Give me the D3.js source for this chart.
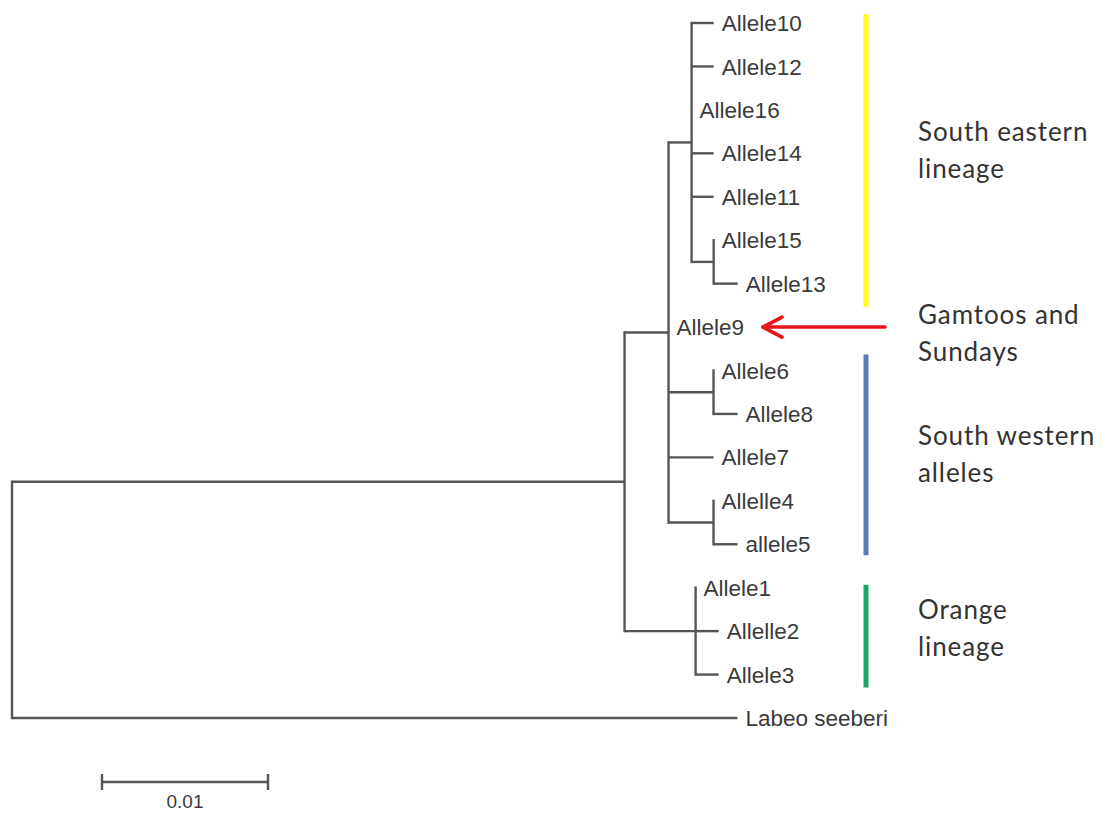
<!DOCTYPE html>
<html>
<head>
<meta charset="utf-8">
<script src="https://cdn.jsdelivr.net/npm/d3@7/dist/d3.min.js"></script>
<style>
  html, body { margin: 0; padding: 0; background: #fff; }
  svg { display: block; }
</style>
</head>
<body>
<svg id="chart" width="1107" height="816"></svg>
<script>
// ---- Tree: each node with its parent and branch length (substitutions/site) ----
const nodeIds = [
  "root", "ingroup", "cladeA", "southEast",
  "Allele10", "Allele12", "Allele16", "Allele14", "Allele11", "n15_13", "Allele15", "Allele13",
  "Allele9", "n6_8", "Allele6", "Allele8", "Allele7", "n4_5", "Allelle4", "allele5",
  "orange", "Allele1", "Allelle2", "Allele3",
  "Labeo seeberi"
];
const parentIds = [
  null, "root", "ingroup", "cladeA",
  "southEast", "southEast", "southEast", "southEast", "southEast", "southEast", "n15_13", "n15_13",
  "cladeA", "cladeA", "n6_8", "n6_8", "cladeA", "cladeA", "n4_5", "n4_5",
  "ingroup", "orange", "orange", "orange",
  "root"
];
const branchLengths = [
  0, 0.0369, 0.00265, 0.00139,
  0.00133, 0.00133, 0, 0.00133, 0.00133, 0.00133, 0, 0.00145,
  0, 0.00271, 0, 0.00145, 0.00271, 0.00271, 0, 0.00145,
  0.00428, 0, 0.00139, 0.00139,
  0.0437
];

// ---- Scale bar ----
const scaleBarValue = 0.01;
const scaleBarLabel = "0.01";

// ---- Lineage brackets (first leaf, last leaf) ----
const groupNames  = ["South eastern lineage", "South western alleles", "Orange lineage"];
const groupLines  = [["South eastern", "lineage"], ["South western", "alleles"], ["Orange", "lineage"]];
const groupFirst  = ["Allele10", "Allele6", "Allele1"];
const groupLast   = ["Allele13", "allele5", "Allele3"];
const groupAnchor = ["Allele14", "Allele7", "Allelle2"];
const groupColors = ["#ffff1a", "#5b7db3", "#1fa46c"];

// ---- Highlighted allele ----
const arrowTarget = "Allele9";
const arrowLines  = ["Gamtoos and", "Sundays"];

// ---------------------------------------------------------------
const svg = d3.select("#chart");

const table = nodeIds.map((id, i) => ({ id, parent: parentIds[i], len: branchLengths[i] }));
const root = d3.stratify().id(d => d.id).parentId(d => d.parent)(table);

// cumulative distance from the root
root.each(n => { n.dist = n.parent ? n.parent.dist + n.data.len : 0; });

const leaves = root.leaves();
leaves.forEach((l, i) => { l.row = i; });
// internal node row = midpoint of first and last child
root.eachAfter(n => {
  if (n.children) n.row = (n.children[0].row + n.children[n.children.length - 1].row) / 2;
});

const x = d3.scaleLinear().domain([0, 0.01]).range([12, 178]);
const y = d3.scaleLinear().domain([0, leaves.length - 1]).range([23, 718]);

const treeColor = "#555";
const g = svg.append("g");

// horizontal branches
g.selectAll("line.h")
  .data(root.descendants().filter(n => n.parent && n.data.len > 0))
  .join("line")
  .attr("x1", n => x(n.parent.dist)).attr("x2", n => x(n.dist))
  .attr("y1", n => y(n.row)).attr("y2", n => y(n.row))
  .attr("stroke", treeColor).attr("stroke-width", 2.4);

// vertical connectors
g.selectAll("line.v")
  .data(root.descendants().filter(n => n.children))
  .join("line")
  .attr("x1", n => x(n.dist)).attr("x2", n => x(n.dist))
  .attr("y1", n => y(n.children[0].row) - 1.2)
  .attr("y2", n => y(n.children[n.children.length - 1].row) + 1.2)
  .attr("stroke", treeColor).attr("stroke-width", 2.4);

// leaf labels
g.selectAll("text.leaf")
  .data(leaves)
  .join("text")
  .attr("x", l => x(l.dist) + 8)
  .attr("y", l => y(l.row))
  .attr("dy", "0.36em")
  .attr("font-family", "'Liberation Sans', Arial, sans-serif")
  .attr("font-size", 22.5)
  .attr("fill", "#3a3a3a")
  .text(l => l.id);

// scale bar
const sbX0 = 102, sbY = 782;
const sbW = x(scaleBarValue) - x(0);
const sb = svg.append("g").attr("stroke", treeColor).attr("stroke-width", 2.4);
sb.append("line").attr("x1", sbX0).attr("x2", sbX0 + sbW).attr("y1", sbY).attr("y2", sbY);
sb.append("line").attr("x1", sbX0).attr("x2", sbX0).attr("y1", sbY - 8).attr("y2", sbY + 8);
sb.append("line").attr("x1", sbX0 + sbW).attr("x2", sbX0 + sbW).attr("y1", sbY - 8).attr("y2", sbY + 8);
svg.append("text")
  .attr("x", sbX0 + sbW / 2).attr("y", sbY + 26)
  .attr("text-anchor", "middle")
  .attr("font-family", "'Liberation Sans', Arial, sans-serif")
  .attr("font-size", 19).attr("fill", "#3a3a3a")
  .text(scaleBarLabel);

// lineage brackets and their labels
const leafRow = Object.fromEntries(leaves.map(l => [l.id, l.row]));
const barX = 866, labelX = 918;
const barPadTop = [9, 16, 3], barPadBottom = [23, 11, 13];
const labelFont = "Lato, 'Open Sans', sans-serif";

groupNames.forEach((name, i) => {
  svg.append("line")
    .attr("x1", barX).attr("x2", barX)
    .attr("y1", y(leafRow[groupFirst[i]]) - barPadTop[i])
    .attr("y2", y(leafRow[groupLast[i]]) + barPadBottom[i])
    .attr("stroke", groupColors[i]).attr("stroke-width", 5);
  const t = svg.append("text")
    .attr("font-family", labelFont).attr("font-size", 26)
    .attr("letter-spacing", 0.9)
    .attr("fill", "#333");
  groupLines[i].forEach((line, k) => {
    t.append("tspan").attr("x", labelX)
      .attr("y", y(leafRow[groupAnchor[i]]) - 12 + k * 36.5)
      .text(line);
  });
});

// arrow pointing at the highlighted allele
const ay = y(leafRow[arrowTarget]);
const ax0 = 885, ax1 = 763;
const arrow = svg.append("g").attr("stroke", "#e8141c").attr("stroke-width", 3.6)
  .attr("fill", "none").attr("stroke-linecap", "round").attr("stroke-linejoin", "round");
arrow.append("line").attr("x1", ax0).attr("x2", ax1).attr("y1", ay).attr("y2", ay);
arrow.append("polyline").attr("points", [[ax1 + 19, ay - 10], [ax1, ay], [ax1 + 19, ay + 10]].join(" "));

const at = svg.append("text")
  .attr("font-family", labelFont).attr("font-size", 26)
  .attr("letter-spacing", 0.9)
  .attr("fill", "#333");
arrowLines.forEach((line, k) => {
  at.append("tspan").attr("x", labelX).attr("y", ay - 3 + k * 36.5).text(line);
});
</script>
</body>
</html>
